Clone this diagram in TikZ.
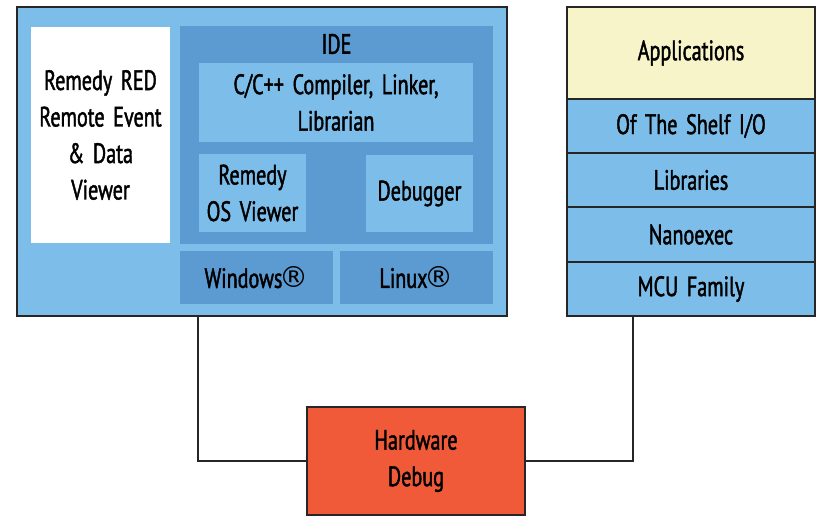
\documentclass[tikz,border=0pt]{standalone}
\usepackage{fontspec}
\setmainfont[FakeStretch=0.72, FakeBold=1.5, WordSpace=1.6]{PT Sans}
\newfontfamily\markfont{DejaVu Sans}
\definecolor{skyblue}{HTML}{7DBDE9}
\definecolor{idegray}{HTML}{5C9BD1}
\definecolor{paleyellow}{HTML}{F7F4C9}
\definecolor{redorange}{HTML}{F15A38}
\newcommand{\regmark}{\kern-3pt{\markfont\fontsize{29}{36}\selectfont ®}}
\begin{document}
\begin{tikzpicture}[x=1pt,y=-1pt,
    blk/.style={inner sep=0pt, align=center, font=\fontsize{28}{36.5}\selectfont},
    frame/.style={blk, draw=black!85, line width=1.3pt},
    stack/.style={frame, fill=skyblue, minimum width=248pt}]
  \useasboundingbox (0,0) rectangle (816,516);
  \node[frame, fill=skyblue, minimum width=490pt, minimum height=309pt] (P) at (262,161.5) {};
  \node[blk, fill=white, minimum width=139pt, minimum height=216pt] (R) at (100.5,135) {Remedy RED\\Remote Event\\\& Data\\Viewer};
  \node[blk, fill=idegray, minimum width=313pt, minimum height=218pt] (I) at (336.5,135) {};
  \node[blk] (T) at (336.5,44) {IDE};
  \node[blk, fill=skyblue, minimum width=274pt, minimum height=79pt] (C) at (336,102.5) {C/C++ Compiler, Linker,\\Librarian};
  \node[blk, fill=skyblue, minimum width=107pt, minimum height=78pt] (O) at (252.5,193) {Remedy\\OS Viewer};
  \node[blk, fill=skyblue, minimum width=107pt, minimum height=77pt] (D) at (419.5,193.5) {Debugger};
  \node[blk, fill=idegray, minimum width=153pt, minimum height=53pt] (W) at (256.5,277.5) {Windows\regmark};
  \node[blk, fill=idegray, minimum width=153pt, minimum height=53pt] (X) at (416.5,277.5) {Linux\regmark};

  \node[stack, fill=paleyellow, minimum height=92pt] (A) at (691,53) {Applications};
  \node[stack, minimum height=54pt] (S) at (691,126) {Of The Shelf I/O};
  \node[stack, minimum height=54pt] (L) at (691,180) {Libraries};
  \node[stack, minimum height=55pt] (N) at (691,234.5) {Nanoexec};
  \node[stack, minimum height=54pt] (M) at (691,289) {MCU Family};

  \node[frame, fill=redorange, minimum width=218pt, minimum height=108pt] (H) at (416,461) {Hardware\\Debug};

  \coordinate (U) at (198,0);
  \coordinate (V) at (633,0);
  \draw[line width=1.3pt, black!85] (P.south -| U) |- (H.west);
  \draw[line width=1.3pt, black!85] (M.south -| V) |- (H.east);
\end{tikzpicture}
\end{document}
